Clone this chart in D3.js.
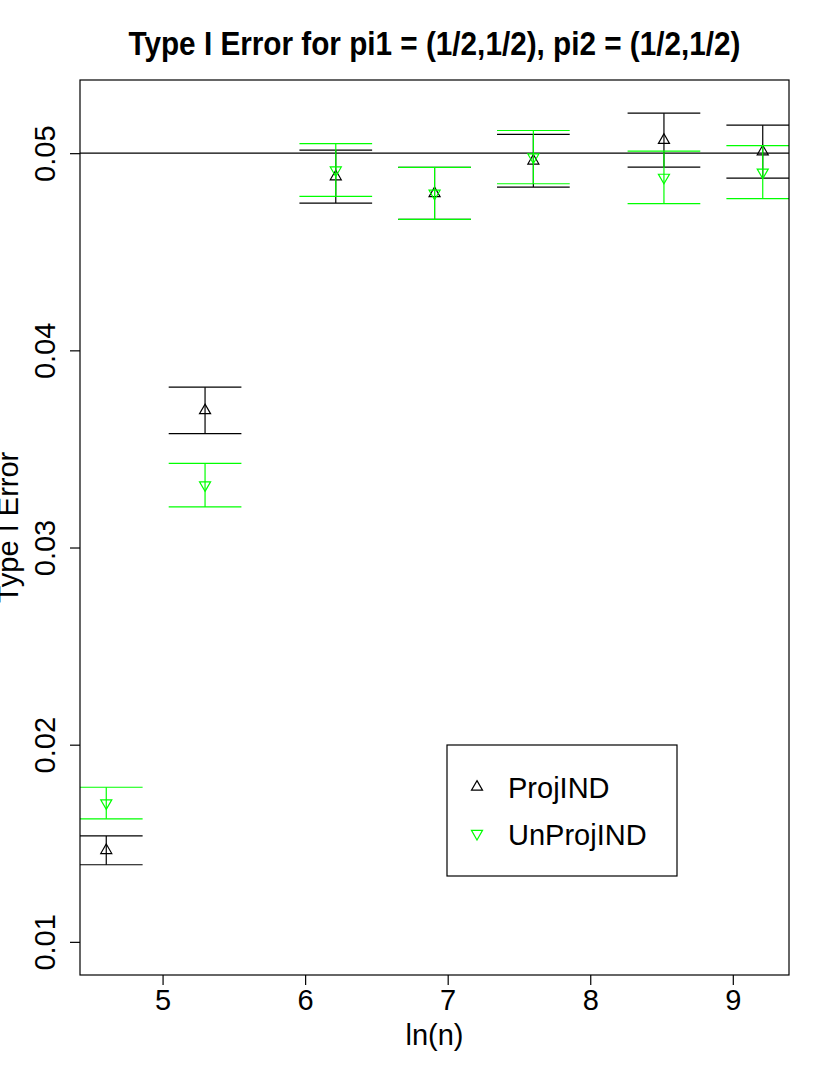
<!DOCTYPE html>
<html>
<head>
<meta charset="utf-8">
<script src="https://cdn.jsdelivr.net/npm/d3@7/dist/d3.min.js"></script>
<style>
  body { margin: 0; background: #fff; }
  text { font-family: "Liberation Sans", Arial, Helvetica, sans-serif; fill: #000; }
</style>
</head>
<body>
<script>
var w = 830;
var h = 1075;

// x positions: ln(n)
var lnN = [4.605, 5.298, 6.215, 6.908, 7.601, 8.517, 9.210];

// ProjIND estimates and interval ends
var projMean  = [0.01464, 0.03695, 0.04881, 0.04796, 0.04961, 0.05066, 0.05008];
var projLower = [0.01391, 0.03578, 0.04747, 0.04664, 0.04828, 0.04929, 0.04873];
var projUpper = [0.01537, 0.03813, 0.05015, 0.04928, 0.05095, 0.05203, 0.05142];

// UnProjIND estimates and interval ends
var unprojMean  = [0.01704, 0.03317, 0.04914, 0.04796, 0.04980, 0.04877, 0.04903];
var unprojLower = [0.01624, 0.03206, 0.04781, 0.04664, 0.04845, 0.04744, 0.04769];
var unprojUpper = [0.01784, 0.03427, 0.05048, 0.04928, 0.05115, 0.05010, 0.05038];

var xTicks = [5, 6, 7, 8, 9];
var yTicks = [0.01, 0.02, 0.03, 0.04, 0.05];
var yTickLabels = ["0.01", "0.02", "0.03", "0.04", "0.05"];
var legendLabels = ["ProjIND", "UnProjIND"];
var refLevel = 0.05;
var yFloor = 0.01;

var titleText = "Type I Error for pi1 = (1/2,1/2), pi2 = (1/2,1/2)";
var xLabel = "ln(n)";
var yLabel = "Type I Error";

var margin = {top: 80, right: 41, bottom: 100, left: 80};
var pw = w - margin.left - margin.right;
var ph = h - margin.top - margin.bottom;
var capHalf = 0.255; // cap half width in x units
var lw = 1.2;
var fs = 29;

var series = [
  {mean: projMean, lower: projLower, upper: projUpper, color: "#000000", up: true},
  {mean: unprojMean, lower: unprojLower, upper: unprojUpper, color: "#00ff00", up: false}
];

// R style 4% padding on both axes
var xExt = d3.extent(lnN);
var xPad = (xExt[1] - xExt[0]) * 0.04;
var yTop = d3.max(projUpper.concat(unprojUpper));
var yPad = (yTop - yFloor) * 0.04;

var x = d3.scaleLinear()
  .domain([xExt[0] - xPad, xExt[1] + xPad])
  .range([margin.left, margin.left + pw]);
var y = d3.scaleLinear()
  .domain([yFloor - yPad, yTop + yPad])
  .range([margin.top + ph, margin.top]);

var svg = d3.select("body")
  .append("svg")
  .attr("width", w)
  .attr("height", h);

svg.append("rect")
  .attr("width", w)
  .attr("height", h)
  .attr("fill", "#fff");

svg.append("clipPath")
  .attr("id", "plotclip")
  .append("rect")
  .attr("x", margin.left)
  .attr("y", margin.top)
  .attr("width", pw)
  .attr("height", ph);

var plot = svg.append("g").attr("clip-path", "url(#plotclip)");

// triangle like R pch 2 / 6, centred on the point
function tri(cx, cy, up, s) {
  var r = 1.555 * s, xc = 1.3468 * s, yc = 0.7776 * s;
  var d = up ? 1 : -1;
  return "M" + cx + "," + (cy - d * r) +
    "L" + (cx + xc) + "," + (cy + d * yc) +
    "L" + (cx - xc) + "," + (cy + d * yc) + "Z";
}

// reference line
plot.append("line")
  .attr("x1", margin.left)
  .attr("x2", margin.left + pw)
  .attr("y1", y(refLevel))
  .attr("y2", y(refLevel))
  .attr("stroke", "#000")
  .attr("stroke-width", lw);

series.forEach(function (s) {
  var g = plot.append("g");
  var idx = d3.range(lnN.length);

  g.selectAll(".pt")
    .data(idx)
    .enter()
    .append("path")
    .attr("d", function (i) { return tri(x(lnN[i]), y(s.mean[i]), s.up, 4.1); })
    .attr("fill", "none")
    .attr("stroke", s.color)
    .attr("stroke-width", lw);

  g.selectAll(".vbar")
    .data(idx)
    .enter()
    .append("line")
    .attr("x1", function (i) { return x(lnN[i]); })
    .attr("x2", function (i) { return x(lnN[i]); })
    .attr("y1", function (i) { return y(s.lower[i]); })
    .attr("y2", function (i) { return y(s.upper[i]); })
    .attr("stroke", s.color)
    .attr("stroke-width", lw);

  ["lower", "upper"].forEach(function (k) {
    g.selectAll(".cap-" + k)
      .data(idx)
      .enter()
      .append("line")
      .attr("x1", function (i) { return x(lnN[i] - capHalf); })
      .attr("x2", function (i) { return x(lnN[i] + capHalf); })
      .attr("y1", function (i) { return y(s[k][i]); })
      .attr("y2", function (i) { return y(s[k][i]); })
      .attr("stroke", s.color)
      .attr("stroke-width", lw);
  });
});

// box
svg.append("rect")
  .attr("x", margin.left)
  .attr("y", margin.top)
  .attr("width", pw)
  .attr("height", ph)
  .attr("fill", "none")
  .attr("stroke", "#000")
  .attr("stroke-width", lw);

// x axis
var xAxis = d3.axisBottom(x)
  .tickValues(xTicks)
  .tickSize(10)
  .tickFormat(d3.format("d"));
var gx = svg.append("g")
  .attr("transform", "translate(0," + (margin.top + ph) + ")")
  .call(xAxis);
gx.select(".domain").remove();
gx.selectAll("line").attr("stroke", "#000").attr("stroke-width", lw);
gx.selectAll("text")
  .attr("font-size", fs)
  .attr("font-family", "Liberation Sans, Arial, sans-serif")
  .attr("fill", "#000")
  .attr("dy", null)
  .attr("y", 35);

// y axis with labels parallel to axis
var yAxis = d3.axisLeft(y)
  .tickValues(yTicks)
  .tickSize(10)
  .tickFormat(function (d, i) { return yTickLabels[i]; });
var gy = svg.append("g")
  .attr("transform", "translate(" + margin.left + ",0)")
  .call(yAxis);
gy.select(".domain").remove();
gy.selectAll("line").attr("stroke", "#000").attr("stroke-width", lw);
gy.selectAll("text")
  .attr("font-size", fs)
  .attr("font-family", "Liberation Sans, Arial, sans-serif")
  .attr("fill", "#000")
  .attr("x", null)
  .attr("dy", null)
  .attr("text-anchor", "middle")
  .attr("transform", "translate(-25,0) rotate(-90)");

// titles
svg.append("text")
  .attr("x", margin.left + pw / 2)
  .attr("y", 55)
  .attr("text-anchor", "middle")
  .attr("font-size", 33)
  .attr("font-weight", "bold")
  .attr("textLength", 612)
  .attr("lengthAdjust", "spacingAndGlyphs")
  .text(titleText);

svg.append("text")
  .attr("x", margin.left + pw / 2)
  .attr("y", 1045)
  .attr("text-anchor", "middle")
  .attr("font-size", fs)
  .text(xLabel);

svg.append("text")
  .attr("transform", "translate(18," + (margin.top + ph / 2) + ") rotate(-90)")
  .attr("text-anchor", "middle")
  .attr("font-size", fs)
  .text(yLabel);

// legend
var lg = svg.append("g").attr("transform", "translate(447,745)");
lg.append("rect")
  .attr("width", 230)
  .attr("height", 131)
  .attr("fill", "#fff")
  .attr("stroke", "#000")
  .attr("stroke-width", lw);

var items = lg.selectAll(".item")
  .data(legendLabels)
  .enter()
  .append("g")
  .attr("transform", function (d, i) { return "translate(0," + (42 + i * 46.6) + ")"; });

items.append("path")
  .attr("d", function (d, i) { return tri(30, 0, series[i].up, 4.1); })
  .attr("fill", "none")
  .attr("stroke", function (d, i) { return series[i].color; })
  .attr("stroke-width", lw);

items.append("text")
  .attr("x", 61)
  .attr("y", 11)
  .attr("font-size", fs)
  .text(function (d) { return d; });
</script>
</body>
</html>
